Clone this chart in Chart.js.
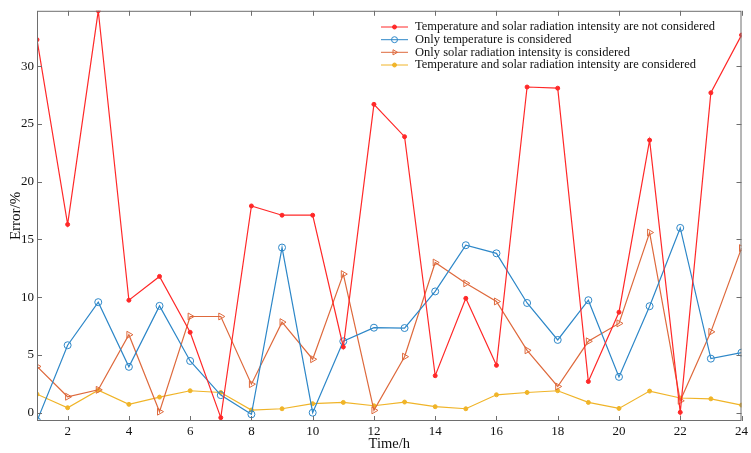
<!DOCTYPE html>
<html>
<head>
<meta charset="utf-8">
<script src="https://cdn.jsdelivr.net/npm/chart.js@4"></script>
<style>
  html, body { margin: 0; padding: 0; background: #fff; }
  #wrap { width: 751px; height: 453px; }
</style>
</head>
<body>
<div id="wrap"><canvas id="chart" width="751" height="453"></canvas></div>
<script>
"use strict";

// data
const HOURS = [1, 2, 3, 4, 5, 6, 7, 8, 9, 10, 11, 12, 13, 14, 15, 16, 17, 18, 19, 20, 21, 22, 23, 24];
const NOT_CONSIDERED = [32.3, 16.3, 34.8, 9.74, 11.8, 6.96, -0.43, 17.9, 17.1, 17.1, 5.69, 26.7,
    23.9, 3.2, 9.9, 4.1, 28.2, 28.1, 2.7, 8.7, 23.6, 0.03, 27.7, 32.7];
const ONLY_TEMPERATURE = [-0.72, 5.84, 9.57, 3.97, 9.25, 4.48, 1.52, -0.14, 14.3, 0.0, 6.18, 7.36,
    7.33, 10.5, 14.5, 13.8, 9.5, 6.3, 9.74, 3.1, 9.22, 16.0, 4.68, 5.2];
const ONLY_SOLAR = [4.0, 1.38, 1.98, 6.75, 0.09, 8.33, 8.33, 2.47, 7.84, 4.63, 12.0, 0.2,
    4.85, 13.0, 11.2, 9.63, 5.4, 2.27, 6.18, 7.73, 15.6, 1.03, 7.0, 14.25];
const BOTH_CONSIDERED = [1.6, 0.43, 1.95, 0.72, 1.35, 1.9, 1.75, 0.23, 0.34, 0.78, 0.89, 0.6,
    0.92, 0.52, 0.34, 1.55, 1.75, 1.9, 0.89, 0.37, 1.87, 1.27, 1.2, 0.66];

const SERIES_LABELS = [
    'Temperature and solar radiation intensity are not considered',
    'Only temperature is considered',
    'Only solar radiation intensity is considered',
    'Temperature and solar radiation intensity are considered'
];
const X_TICKS = [2, 4, 6, 8, 10, 12, 14, 16, 18, 20, 22, 24];
const Y_TICKS = [0, 5, 10, 15, 20, 25, 30];

const FONT = "'Liberation Serif', 'DejaVu Serif', serif";
const AXIS_COLOR = '#6e6e6e';

function points(values) {
    return values.map((v, i) => ({ x: HOURS[i], y: v }));
}

// box round the plot with inward ticks on all four sides
const frame = {
    id: 'frame',
    afterDraw(chart) {
        const c = chart.ctx;
        const a = chart.chartArea;
        const xs = chart.scales.x;
        const ys = chart.scales.y;
        const len = 5;
        c.save();
        c.strokeStyle = AXIS_COLOR;
        c.lineWidth = 1;
        c.strokeRect(a.left + 0.5, a.top + 0.5, a.right - a.left - 1, a.bottom - a.top - 1);
        c.beginPath();
        X_TICKS.forEach(t => {
            const px = Math.round(xs.getPixelForValue(t)) + 0.5;
            c.moveTo(px, a.bottom); c.lineTo(px, a.bottom - len);
            c.moveTo(px, a.top); c.lineTo(px, a.top + len);
        });
        Y_TICKS.forEach(t => {
            const py = Math.round(ys.getPixelForValue(t)) + 0.5;
            c.moveTo(a.left, py); c.lineTo(a.left + len, py);
            c.moveTo(a.right, py); c.lineTo(a.right - len, py);
        });
        c.stroke();
        c.restore();
    }
};

// legend inside the plot, top right, no box
const insideLegend = {
    id: 'insideLegend',
    afterDraw(chart) {
        const c = chart.ctx;
        const x0 = 381, x1 = 408, tx = 415;
        const rowY = [27, 39.7, 52.3, 65];
        c.save();
        c.font = '12.5px ' + FONT;
        c.textBaseline = 'middle';
        c.textAlign = 'left';
        chart.data.datasets.forEach((ds, i) => {
            const y = rowY[i];
            c.strokeStyle = ds.borderColor;
            c.fillStyle = ds.backgroundColor;
            c.lineWidth = 1;
            c.beginPath();
            c.moveTo(x0, y); c.lineTo(x1, y);
            c.stroke();
            Chart.helpers.drawPoint(c, {
                pointStyle: ds.pointStyle,
                radius: Math.min(ds.pointRadius, 3),
                rotation: ds.pointRotation || 0,
                borderWidth: 1
            }, (x0 + x1) / 2, y);
            c.fillStyle = '#111';
            c.fillText(ds.label, tx, y);
        });
        c.restore();
    }
};

const ctx = document.getElementById('chart').getContext('2d');
const chart = new Chart(ctx, {
    type: 'line',
    data: {
        datasets: [{
            label: SERIES_LABELS[0],
            data: points(NOT_CONSIDERED),
            borderColor: 'rgb(255, 40, 40)',
            backgroundColor: 'rgb(255, 40, 40)',
            borderWidth: 1.2,
            pointStyle: 'circle',
            pointRadius: 2,
            pointBorderWidth: 1
        }, {
            label: SERIES_LABELS[1],
            data: points(ONLY_TEMPERATURE),
            borderColor: 'rgb(45, 135, 200)',
            backgroundColor: 'rgba(255, 255, 255, 0)',
            borderWidth: 1.2,
            pointStyle: 'circle',
            pointRadius: 3.5,
            pointBorderWidth: 1
        }, {
            label: SERIES_LABELS[2],
            data: points(ONLY_SOLAR),
            borderColor: 'rgb(222, 105, 60)',
            backgroundColor: 'rgba(255, 255, 255, 0)',
            borderWidth: 1.2,
            pointStyle: 'triangle',
            pointRotation: 90,
            pointRadius: 4,
            pointBorderWidth: 1
        }, {
            label: SERIES_LABELS[3],
            data: points(BOTH_CONSIDERED),
            borderColor: 'rgb(240, 180, 40)',
            backgroundColor: 'rgb(240, 180, 40)',
            borderWidth: 1.2,
            pointStyle: 'circle',
            pointRadius: 2,
            pointBorderWidth: 1
        }]
    },
    options: {
        responsive: false,
        animation: false,
        layout: {
            padding: { top: 9, right: 7, left: 0, bottom: 0 }
        },
        scales: {
            x: {
                type: 'linear',
                min: 1,
                max: 24,
                afterBuildTicks: scale => { scale.ticks = X_TICKS.map(v => ({ value: v })); },
                afterFit: scale => { scale.height = 32; },
                grid: { display: false, drawTicks: false },
                border: { display: false },
                ticks: {
                    padding: 3,
                    color: '#111',
                    font: { family: FONT, size: 13 }
                },
                title: {
                    display: true,
                    text: 'Time/h',
                    color: '#111',
                    padding: { top: 0, bottom: 0 },
                    font: { family: FONT, size: 14.5 }
                }
            },
            y: {
                min: -0.72,
                max: 34.8,
                afterBuildTicks: scale => { scale.ticks = Y_TICKS.map(v => ({ value: v })); },
                afterFit: scale => { scale.width = 37; },
                grid: { display: false, drawTicks: false },
                border: { display: false },
                ticks: {
                    padding: 3,
                    color: '#111',
                    font: { family: FONT, size: 13 }
                },
                title: {
                    display: true,
                    text: 'Error/%',
                    color: '#111',
                    padding: { top: 7, bottom: 0 },
                    font: { family: FONT, size: 15 }
                }
            }
        },
        plugins: {
            legend: { display: false },
            tooltip: { enabled: false }
        }
    },
    plugins: [frame, insideLegend]
});
</script>
</body>
</html>
